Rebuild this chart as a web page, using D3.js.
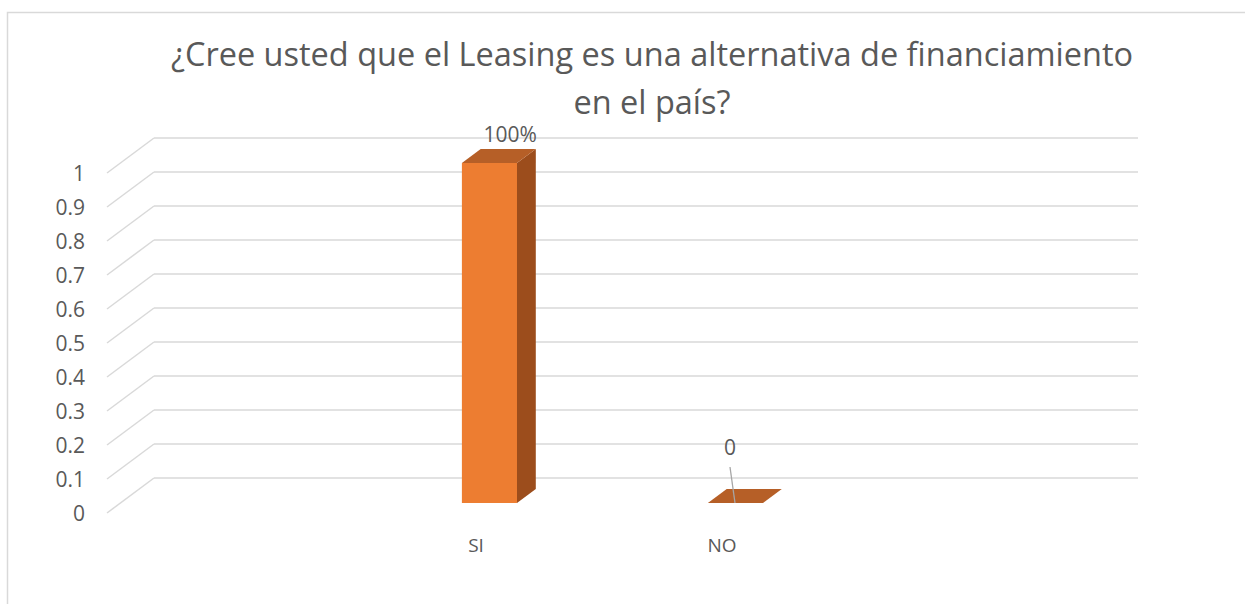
<!DOCTYPE html>
<html>
<head>
<meta charset="utf-8">
<script src="https://cdn.jsdelivr.net/npm/d3@7"></script>
<style>
  body { margin: 0; background: #fff; }
  text { font-family: "Open Sans", sans-serif; fill: #595959; }
</style>
</head>
<body>
<div id="chart"></div>
<script>
// chart data
var categories = ["SI", "NO"];
var values = [1, 0];
var valueLabels = ["100%", "0"];
var yTicks = [0, 0.1, 0.2, 0.3, 0.4, 0.5, 0.6, 0.7, 0.8, 0.9, 1];
var yTickLabels = ["0", "0.1", "0.2", "0.3", "0.4", "0.5", "0.6", "0.7", "0.8", "0.9", "1"];
var titleLines = ["¿Cree usted que el Leasing es una alternativa de financiamiento", "en el país?"];

var width = 1245, height = 604;
// 3d depth offset of the back wall
var depthX = 47, depthY = -35;

var svg = d3.select("#chart").append("svg")
  .attr("width", width)
  .attr("height", height);

// chart border (only top/left visible in frame)
svg.append("rect")
  .attr("x", 7.5).attr("y", 12.5)
  .attr("width", 1400).attr("height", 800)
  .attr("fill", "none")
  .attr("stroke", "#d9d9d9")
  .attr("stroke-width", 1.5);

var x = d3.scaleBand()
  .domain(categories)
  .range([107, 1091])
  .paddingInner(0)
  .paddingOuter(1);

var y = d3.scaleLinear()
  .domain([0, 1])
  .range([513, 173]);

// gridlines: side wall diagonal + back wall horizontal
var grid = svg.append("g").attr("class", "grid");
grid.selectAll(".side")
  .data(yTicks).enter()
  .append("line")
  .attr("x1", 107).attr("y1", function(d) { return y(d); })
  .attr("x2", 107 + depthX).attr("y2", function(d) { return y(d) + depthY; })
  .attr("stroke", "#d9d9d9").attr("stroke-width", 1.5);
grid.selectAll(".back")
  .data(yTicks).enter()
  .append("line")
  .attr("x1", 107 + depthX).attr("y1", function(d) { return y(d) + depthY; })
  .attr("x2", 1091 + depthX).attr("y2", function(d) { return y(d) + depthY; })
  .attr("stroke", "#d9d9d9").attr("stroke-width", 1.5);

// y axis labels
svg.selectAll(".ylab")
  .data(yTicks).enter()
  .append("text")
  .attr("class", "ylab")
  .attr("x", 85)
  .attr("y", function(d) { return y(d); })
  .attr("dy", "0.36em")
  .attr("text-anchor", "end")
  .style("font-size", "21px")
  .text(function(d, i) { return yTickLabels[i]; });

// bars
var barW = x.step() * 0.224;
var offX = depthX * 0.286, offY = depthY * 0.286;   // bar front plane
var dX = depthX * 0.4, dY = depthY * 0.4;           // bar depth

var bars = svg.selectAll(".bar")
  .data(categories).enter()
  .append("g").attr("class", "bar");

function xc(c) { return x(c) + x.bandwidth() / 2; }
function x0(c) { return xc(c) - barW / 2 + offX; }
function yb(i) { return y(values[i]) + offY; }
var base = y(0) + offY;

// front face
bars.append("rect")
  .attr("x", function(d) { return x0(d); })
  .attr("y", function(d, i) { return yb(i); })
  .attr("width", barW)
  .attr("height", function(d, i) { return base - yb(i); })
  .attr("fill", "#ed7d31");
// side face
bars.append("path")
  .attr("d", function(d, i) {
    var xr = x0(d) + barW, yt = yb(i);
    return "M" + xr + "," + yt + "L" + (xr + dX) + "," + (yt + dY) +
      "L" + (xr + dX) + "," + (base + dY) + "L" + xr + "," + base + "Z";
  })
  .attr("fill", "#9c4d1c");
// top face
bars.append("path")
  .attr("d", function(d, i) {
    var xl = x0(d), yt = yb(i);
    return "M" + xl + "," + yt + "L" + (xl + dX) + "," + (yt + dY) +
      "L" + (xl + barW + dX) + "," + (yt + dY) + "L" + (xl + barW) + "," + yt + "Z";
  })
  .attr("fill", "#b65f27");

// data labels
bars.each(function(d, i) {
  var g = d3.select(this);
  var cx = x0(d) + barW / 2 + dX + 2;
  var ty = yb(i) + dY - 7;
  if (values[i] === 0) {
    // label was dragged up, with a leader line
    g.append("line")
      .attr("x1", xc(d) + 8).attr("y1", ty - 15)
      .attr("x2", xc(d) + 13).attr("y2", yb(i))
      .attr("stroke", "#a6a6a6").attr("stroke-width", 1.3);
    ty = ty - 27;
    cx = xc(d) + 8;
  }
  g.append("text")
    .attr("x", cx)
    .attr("y", ty)
    .attr("text-anchor", "middle")
    .style("font-size", "21px")
    .text(valueLabels[i]);
});

// category labels
svg.selectAll(".xlab")
  .data(categories).enter()
  .append("text")
  .attr("class", "xlab")
  .attr("x", function(d) { return xc(d); })
  .attr("y", 552)
  .attr("text-anchor", "middle")
  .style("font-size", "19px")
  .text(function(d) { return d; });

// title
svg.selectAll(".title")
  .data(titleLines).enter()
  .append("text")
  .attr("class", "title")
  .attr("x", 652)
  .attr("y", function(d, i) { return 66 + i * 48; })
  .attr("text-anchor", "middle")
  .style("font-size", "32.5px")
  .text(function(d) { return d; });
</script>
</body>
</html>
